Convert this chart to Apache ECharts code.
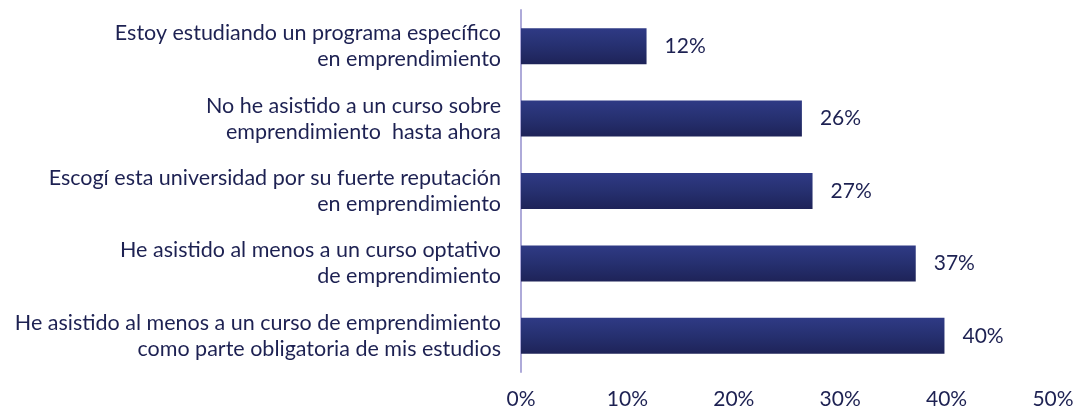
<!DOCTYPE html>
<html>
<head>
<meta charset="utf-8">
<script src="https://cdn.jsdelivr.net/npm/echarts@6/dist/echarts.min.js"></script>
<style>html,body{margin:0;padding:0;background:#fff}#c{width:1079px;height:414px}</style>
</head>
<body>
<div id="c"></div>
<script>
const categories = [
  "Estoy estudiando un programa específico\nen emprendimiento",
  "No he asistido a un curso sobre\nemprendimiento  hasta ahora",
  "Escogí esta universidad por su fuerte reputación\nen emprendimiento",
  "He asistido al menos a un curso optativo\nde emprendimiento",
  "He asistido al menos a un curso de emprendimiento\ncomo parte obligatoria de mis estudios"
];
const values = [11.8, 26.4, 27.4, 37.1, 39.8];
const xTicks = [0, 10, 20, 30, 40, 50];

const textColor = '#1d2152';
const chart = echarts.init(document.getElementById('c'), null, {renderer: 'canvas'});
chart.setOption({
  animation: false,
  backgroundColor: '#ffffff',
  grid: {left: 521, right: 26, top: 10, bottom: 42, containLabel: false},
  xAxis: {
    type: 'value', min: xTicks[0], max: xTicks[xTicks.length - 1], interval: 10,
    axisLine: {show: false}, axisTick: {show: false}, splitLine: {show: false},
    axisLabel: {color: textColor, fontFamily: 'Lato', fontSize: 21, margin: 17,
      formatter: v => v + '%'}
  },
  yAxis: {
    type: 'category', data: categories, inverse: true,
    axisLine: {show: true, lineStyle: {color: '#aeaad9', width: 2}},
    axisTick: {show: false},
    axisLabel: {color: textColor, fontFamily: 'Lato', fontSize: 21.5, lineHeight: 26, margin: 20, align: 'right'}
  },
  series: [{
    type: 'bar', data: values, barWidth: 36,
    itemStyle: {
      color: new echarts.graphic.LinearGradient(0, 0, 0, 1, [
        {offset: 0, color: '#2f3a85'},
        {offset: 0.5, color: '#263070'},
        {offset: 1, color: '#1e2358'}
      ])
    },
    label: {show: true, position: 'right', distance: 18, color: textColor,
      fontFamily: 'Lato', fontSize: 21, formatter: p => Math.round(p.value) + '%'}
  }]
});
</script>
</body>
</html>
